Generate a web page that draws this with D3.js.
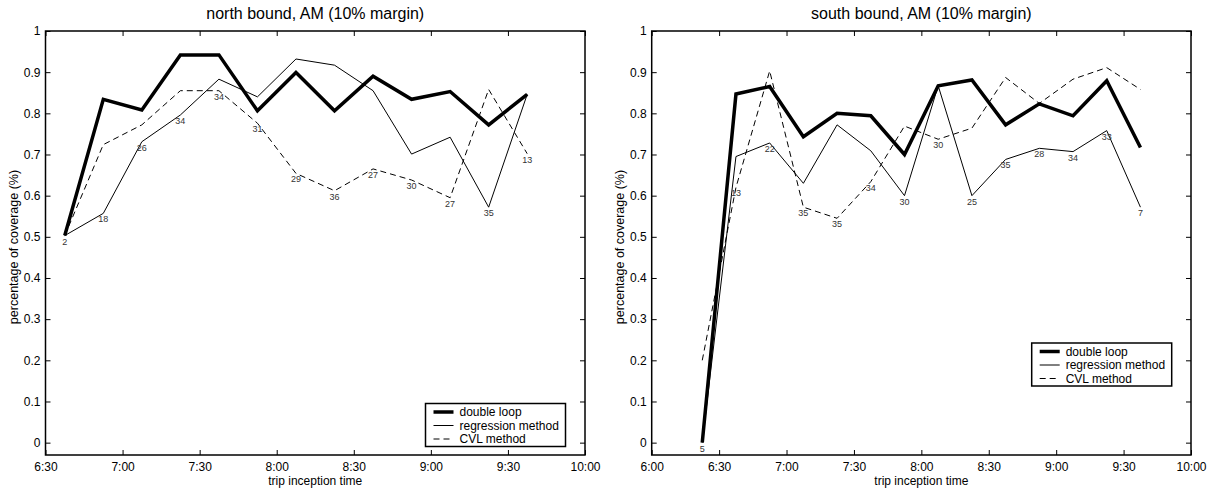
<!DOCTYPE html>
<html>
<head>
<meta charset="utf-8">
<script src="https://cdn.jsdelivr.net/npm/d3@7"></script>
<style>
  html, body { margin: 0; padding: 0; background: #fff; }
  svg { display: block; font-family: "Liberation Sans", Arial, Helvetica, sans-serif; }
</style>
</head>
<body>
<svg id="chart" width="1207" height="488"></svg>
<script>
// ---------------- data ----------------
const seriesNames = ["double loop", "regression method", "CVL method"];
const yTicks = [0, 0.1, 0.2, 0.3, 0.4, 0.5, 0.6, 0.7, 0.8, 0.9, 1];

// North bound
const nbTitle = "north bound, AM (10% margin)";
const nbXTicks = ["6:30", "7:00", "7:30", "8:00", "8:30", "9:00", "9:30", "10:00"];
const nbTimes = ["6:37:30", "6:52:30", "7:07:30", "7:22:30", "7:37:30", "7:52:30", "8:07:30",
                 "8:22:30", "8:37:30", "8:52:30", "9:07:30", "9:22:30", "9:37:30"];
const nbDoubleLoop = [0.503, 0.834, 0.808, 0.942, 0.942, 0.806, 0.899, 0.806, 0.890, 0.834, 0.853, 0.772, 0.846];
const nbRegression = [0.503, 0.557, 0.731, 0.796, 0.883, 0.840, 0.932, 0.917, 0.855, 0.701, 0.742, 0.572, 0.846];
const nbCVL        = [0.503, 0.724, 0.772, 0.855, 0.855, 0.776, 0.654, 0.612, 0.665, 0.638, 0.595, 0.858, 0.702];
const nbCounts     = [2, 18, 26, 34, 34, 31, 29, 36, 27, 30, 27, 35, 13];

// South bound
const sbTitle = "south bound, AM (10% margin)";
const sbXTicks = ["6:00", "6:30", "7:00", "7:30", "8:00", "8:30", "9:00", "9:30", "10:00"];
const sbTimes = ["6:22:30", "6:37:30", "6:52:30", "7:07:30", "7:22:30", "7:37:30", "7:52:30",
                 "8:07:30", "8:22:30", "8:37:30", "8:52:30", "9:07:30", "9:22:30", "9:37:30"];
const sbDoubleLoop = [0.0, 0.847, 0.865, 0.743, 0.800, 0.794, 0.700, 0.867, 0.881, 0.772, 0.823, 0.794, 0.879, 0.717];
const sbRegression = [0.0, 0.695, 0.728, 0.630, 0.772, 0.709, 0.600, 0.867, 0.600, 0.688, 0.715, 0.707, 0.758, 0.572];
const sbCVL        = [0.2, 0.620, 0.903, 0.572, 0.545, 0.634, 0.769, 0.737, 0.764, 0.887, 0.824, 0.883, 0.911, 0.858];
const sbCounts     = [5, 13, 22, 35, 35, 34, 30, 30, 25, 35, 28, 34, 33, 7];

// ---------------- helpers ----------------
function toMin(s) {
  const p = s.split(":").map(Number);
  return p[0] * 60 + p[1] + (p[2] || 0) / 60;
}
function fmtTime(m) {
  const h = Math.floor(m / 60), mm = Math.round(m - h * 60);
  return h + ":" + (mm < 10 ? "0" : "") + mm;
}

const svg = d3.select("#chart");
const plotTop = 31, plotBottom = 455;

function panel(cfg) {
  const { left, right, title, xTicks, times, dl, reg, cvl, counts } = cfg;
  const xt = xTicks.map(toMin);
  const x = d3.scaleLinear().domain([xt[0], xt[xt.length - 1]]).range([left, right]);
  const y = d3.scaleLinear().domain([-0.03, 1]).range([plotBottom, plotTop]);
  const g = svg.append("g");
  const tx = times.map(toMin);

  // axes (inward ticks, mirrored on top/right)
  const ax = (gen) => gen.tickSizeInner(-5).tickSizeOuter(0);
  g.append("g").attr("transform", `translate(0,${plotBottom})`)
    .call(ax(d3.axisBottom(x).tickValues(xt).tickFormat(fmtTime)).tickPadding(7));
  g.append("g").attr("transform", `translate(0,${plotTop})`)
    .call(ax(d3.axisTop(x).tickValues(xt).tickFormat("")));
  g.append("g").attr("transform", `translate(${left},0)`)
    .call(ax(d3.axisLeft(y).tickValues(yTicks).tickFormat(d => String(d))).tickPadding(5));
  g.append("g").attr("transform", `translate(${right},0)`)
    .call(ax(d3.axisRight(y).tickValues(yTicks).tickFormat("")));
  g.selectAll(".domain").remove();
  g.selectAll(".tick line").attr("stroke", "#000").attr("stroke-width", 1);
  g.selectAll(".tick text").attr("font-size", 12).attr("fill", "#000")
    .attr("font-family", "Liberation Sans, Arial, sans-serif");

  g.append("rect").attr("x", left).attr("y", plotTop)
    .attr("width", right - left).attr("height", plotBottom - plotTop)
    .attr("fill", "none").attr("stroke", "#000").attr("stroke-width", 1.5);

  // title and axis labels
  g.append("text").attr("x", (left + right) / 2).attr("y", 18.5)
    .attr("text-anchor", "middle").attr("font-size", 16).text(title);
  g.append("text").attr("x", (left + right) / 2).attr("y", 485)
    .attr("text-anchor", "middle").attr("font-size", 12).text("trip inception time");
  g.append("text")
    .attr("transform", `translate(${left - 28},${(plotTop + plotBottom) / 2 + 4}) rotate(-90)`)
    .attr("text-anchor", "middle").attr("font-size", 12.5).text("percentage of coverage (%)");

  // lines
  const line = d3.line().x((d, i) => x(tx[i])).y(d => y(d));
  g.append("path").datum(cvl).attr("d", line).attr("fill", "none")
    .attr("stroke", "#000").attr("stroke-width", 1).attr("stroke-dasharray", "6,4");
  g.append("path").datum(reg).attr("d", line).attr("fill", "none")
    .attr("stroke", "#000").attr("stroke-width", 1);
  g.append("path").datum(dl).attr("d", line).attr("fill", "none")
    .attr("stroke", "#000").attr("stroke-width", 3.5);

  // sample-size labels at the lower of the two estimated series
  g.selectAll("text.cnt").data(counts).enter().append("text")
    .attr("class", "cnt")
    .attr("x", (d, i) => x(tx[i]))
    .attr("y", (d, i) => y(Math.min(reg[i], cvl[i])) + 6)
    .attr("dominant-baseline", "central")
    .attr("text-anchor", "middle").attr("font-size", 9).attr("fill", "#333")
    .text(d => d);

  // legend
  const lg = g.append("g").attr("transform", `translate(${left + cfg.legX},${cfg.legY})`);
  lg.append("rect").attr("x", 0).attr("y", 0).attr("width", 140).attr("height", 43)
    .attr("fill", "#fff").attr("stroke", "#000").attr("stroke-width", 1.5);
  const styles = [{ w: 3.5, dash: null }, { w: 1, dash: null }, { w: 1, dash: "6,4" }];
  seriesNames.forEach((name, i) => {
    const yy = 8.5 + i * 13.5;
    lg.append("line").attr("x1", 8).attr("x2", 28).attr("y1", yy).attr("y2", yy)
      .attr("stroke", "#000").attr("stroke-width", styles[i].w)
      .attr("stroke-dasharray", styles[i].dash);
    lg.append("text").attr("x", 34).attr("y", yy + 4.3).attr("font-size", 12).text(name);
  });
}

panel({ left: 45.5, right: 585, title: nbTitle, xTicks: nbXTicks, times: nbTimes,
        dl: nbDoubleLoop, reg: nbRegression, cvl: nbCVL, counts: nbCounts, legX: 380, legY: 403.5 });
panel({ left: 651.7, right: 1191, title: sbTitle, xTicks: sbXTicks, times: sbTimes,
        dl: sbDoubleLoop, reg: sbRegression, cvl: sbCVL, counts: sbCounts, legX: 380, legY: 343 });
</script>
</body>
</html>
